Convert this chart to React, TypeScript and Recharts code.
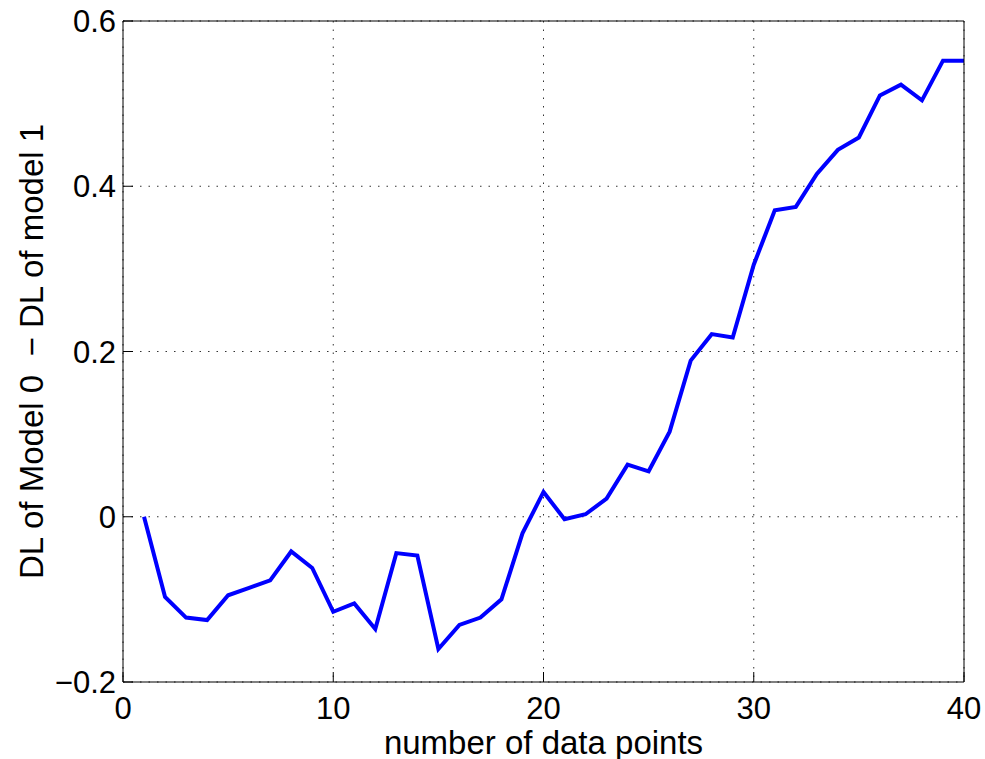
import React from "react";
import {
  LineChart,
  Line,
  XAxis,
  YAxis,
  CartesianGrid,
  Label,
} from "recharts";

const pointCounts = [
  1, 2, 3, 4, 5, 6, 7, 8, 9, 10, 11, 12, 13, 14, 15, 16, 17, 18, 19, 20, 21,
  22, 23, 24, 25, 26, 27, 28, 29, 30, 31, 32, 33, 34, 35, 36, 37, 38, 39, 40,
];

const dlDiff = [
  0, -0.097, -0.122, -0.125, -0.095, -0.086, -0.077, -0.042, -0.062, -0.115,
  -0.105, -0.136, -0.044, -0.047, -0.16, -0.131, -0.122, -0.1, -0.02, 0.03,
  -0.003, 0.003, 0.022, 0.063, 0.055, 0.103, 0.189, 0.221, 0.217, 0.305,
  0.371, 0.375, 0.415, 0.444, 0.459, 0.51, 0.523, 0.504, 0.552, 0.552,
];

const xTicks = [0, 10, 20, 30, 40];
const yTicks = [-0.2, 0, 0.2, 0.4, 0.6];

const xLabel = "number of data points";
const yLabel = "DL of Model 0  \u2212 DL of model 1";

const data = pointCounts.map((n, i) => ({ n, dl: dlDiff[i] }));

const FONT = "'Liberation Sans', Arial, Helvetica, sans-serif";

const fmtY = (v: number) => {
  if (v === 0) return "0";
  const s = Math.abs(v).toFixed(1);
  return v < 0 ? `\u2212${s}` : s;
};

const tickStyle = { fill: "#000", fontSize: 31, fontFamily: FONT };

export default function App() {
  // absolute so the body margin doesn't push the page into scrolling
  return (
    <div style={{ position: "absolute", left: 0, top: 0, width: 985, height: 759 }}>
      <LineChart
        width={985}
        height={759}
        data={data}
        margin={{ top: 20, right: 20, left: 23, bottom: 7 }}
      >
        <CartesianGrid
          stroke="#333"
          strokeDasharray="1.5 7"
          xAxisId="bottom"
          yAxisId="left"
        />
        <XAxis
          xAxisId="bottom"
          dataKey="n"
          type="number"
          domain={[0, 40]}
          ticks={xTicks}
          height={70}
          tickSize={-10}
          tickMargin={25}
          stroke="#000"
          tick={tickStyle}
          interval={0}
        >
          <Label
            content={({ viewBox }: any) => (
              <text
                x={viewBox.x + viewBox.width / 2}
                y={viewBox.y + 72}
                textAnchor="middle"
                fontSize={33}
                fontFamily={FONT}
                fill="#000"
              >
                {xLabel}
              </text>
            )}
          />
        </XAxis>
        {/* top and right axes only close the box (1px so they still render) */}
        <XAxis
          xAxisId="top"
          orientation="top"
          dataKey="n"
          type="number"
          domain={[0, 40]}
          ticks={xTicks}
          height={1}
          tickSize={-10}
          tick={false}
          stroke="#000"
        />
        <YAxis
          yAxisId="left"
          type="number"
          domain={[-0.2, 0.6]}
          ticks={yTicks}
          width={100}
          tickSize={-10}
          tickMargin={17}
          tickFormatter={fmtY}
          stroke="#000"
          tick={tickStyle}
          interval={0}
        >
          <Label
            content={({ viewBox }: any) => {
              const cx = viewBox.x + 8;
              const cy = viewBox.y + viewBox.height / 2;
              return (
                <text
                  x={cx}
                  y={cy}
                  transform={`rotate(-90, ${cx}, ${cy})`}
                  textAnchor="middle"
                  dominantBaseline="central"
                  fontSize={33}
                  fontFamily={FONT}
                  fill="#000"
                  style={{ whiteSpace: "pre" }}
                >
                  {yLabel}
                </text>
              );
            }}
          />
        </YAxis>
        <YAxis
          yAxisId="right"
          orientation="right"
          type="number"
          domain={[-0.2, 0.6]}
          ticks={yTicks}
          width={1}
          tickSize={-10}
          tick={false}
          stroke="#000"
        />
        <Line
          xAxisId="top"
          yAxisId="right"
          type="linear"
          dataKey="dl"
          stroke="none"
          dot={false}
          activeDot={false}
          legendType="none"
          isAnimationActive={false}
        />
        <Line
          xAxisId="bottom"
          yAxisId="left"
          type="linear"
          dataKey="dl"
          stroke="#0000ff"
          strokeWidth={4}
          dot={false}
          activeDot={false}
          isAnimationActive={false}
        />
      </LineChart>
    </div>
  );
}
